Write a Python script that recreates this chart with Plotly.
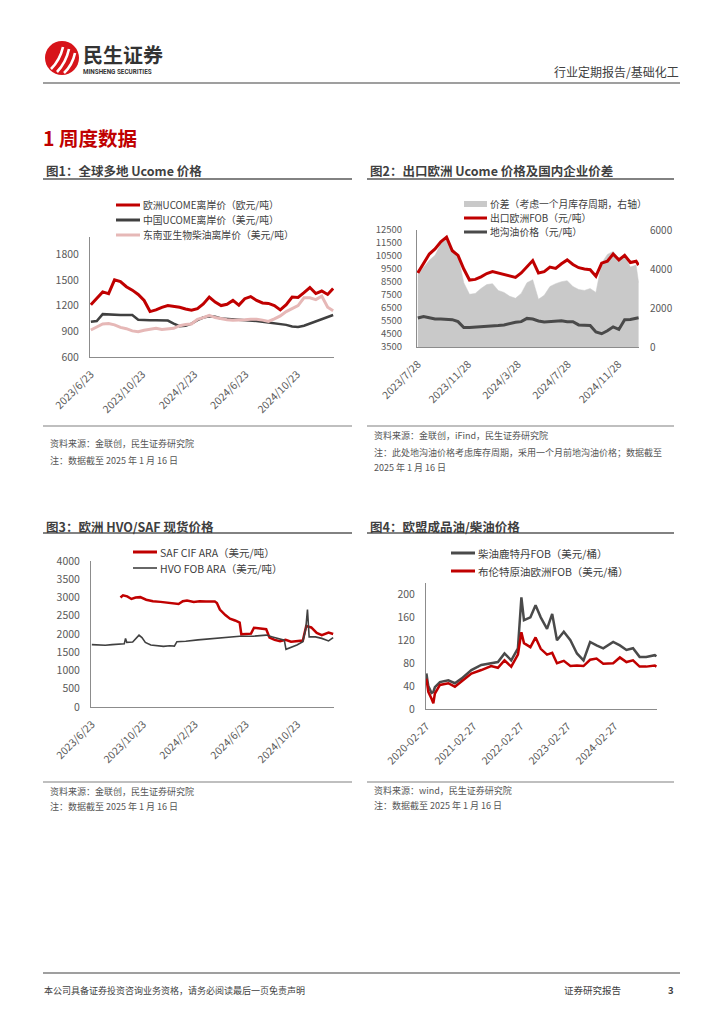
import plotly.graph_objects as go

# page is 724x1024; the browser body adds an 8px margin, so the figure is 716x1016
PAGE_OFF = 8
W, H = 716, 1016
FONT = "Noto Sans CJK SC, Microsoft YaHei, sans-serif"
RED = "#C00000"
DARK = "#404040"
PINK = "#E6B8B7"
AREA = "#C9C9C9"
AXIS = "#8C8C8C"
TICK = "#595959"
TEXT = "#404040"


def px(x):
    return (x - PAGE_OFF) / W


def py(y):
    return 1 - (y - PAGE_OFF) / H


# ---------------- Chart 1 data: 全球多地 Ucome 价格 ----------------
c1_dates = ["2023-06-23", "2023-07-07", "2023-07-21", "2023-08-04", "2023-08-18", "2023-09-01",
            "2023-09-15", "2023-09-29", "2023-10-13", "2023-10-27", "2023-11-10", "2023-11-24",
            "2023-12-08", "2023-12-22", "2024-01-05", "2024-01-19", "2024-02-02", "2024-02-16",
            "2024-03-01", "2024-03-15", "2024-03-29", "2024-04-12", "2024-04-26", "2024-05-10",
            "2024-05-24", "2024-06-07", "2024-06-21", "2024-07-05", "2024-07-19", "2024-08-02",
            "2024-08-16", "2024-08-30", "2024-09-13", "2024-09-27", "2024-10-11", "2024-10-25",
            "2024-11-08", "2024-11-22", "2024-12-06", "2024-12-20", "2025-01-03", "2025-01-16"]
c1_eu_ucome_eur = [1210, 1290, 1360, 1340, 1500, 1480, 1420, 1380, 1330, 1260, 1130, 1150,
                   1180, 1200, 1190, 1180, 1160, 1145, 1165, 1220, 1300, 1240, 1200, 1215,
                   1260, 1205, 1280, 1305, 1260, 1230, 1225, 1200, 1150, 1210, 1300, 1295,
                   1350, 1410, 1340, 1370, 1330, 1400]
c1_cn_ucome_usd = [1010, 1020, 1100, 1095, 1095, 1090, 1090, 1090, 1035, 1030, 1030, 1030,
                   1030, 1025, 990, 960, 965, 990, 1030, 1060, 1075, 1070, 1050, 1045,
                   1040, 1040, 1035, 1030, 1020, 1010, 1000, 990, 980, 975, 955, 950,
                   965, 990, 1010, 1040, 1060, 1090]
c1_sea_biodiesel_usd = [915, 950, 985, 990, 975, 945, 930, 905, 895, 912, 925, 935,
                        920, 930, 935, 965, 980, 985, 1040, 1060, 1085, 1060, 1045, 1035,
                        1030, 1030, 1035, 1040, 1040, 1030, 1015, 1045, 1080, 1130, 1170, 1200,
                        1290, 1290, 1270, 1310, 1180, 1140]
c1_tickvals = ["2023-06-23", "2023-10-23", "2024-02-23", "2024-06-23", "2024-10-23"]
c1_ticktext = ["2023/6/23", "2023/10/23", "2024/2/23", "2024/6/23", "2024/10/23"]
c1_yticks = [600, 900, 1200, 1500, 1800]

# ---------------- Chart 2 data: 出口欧洲 Ucome 价格及国内企业价差 ----------------
c2_dates = ["2023-07-28", "2023-08-11", "2023-08-25", "2023-09-08", "2023-09-22", "2023-10-06",
            "2023-10-20", "2023-11-03", "2023-11-17", "2023-12-01", "2023-12-15", "2023-12-29",
            "2024-01-12", "2024-01-26", "2024-02-09", "2024-02-23", "2024-03-08", "2024-03-22",
            "2024-04-05", "2024-04-19", "2024-05-03", "2024-05-17", "2024-05-31", "2024-06-14",
            "2024-06-28", "2024-07-12", "2024-07-26", "2024-08-09", "2024-08-23", "2024-09-06",
            "2024-09-20", "2024-10-04", "2024-10-18", "2024-11-01", "2024-11-15", "2024-11-29",
            "2024-12-13", "2024-12-27", "2025-01-10", "2025-01-16"]
c2_spread = [3700, 4050, 4450, 4700, 5300, 5550, 5050, 4700, 3300, 2700, 2750, 3000,
             3200, 3250, 2900, 2800, 2600, 2500, 2750, 3300, 3450, 2450, 2650, 3100,
             3250, 3350, 3400, 3100, 2950, 2900, 3000, 2800, 4300, 4750, 4900, 4550,
             4650, 4100, 4200, 3300]
c2_export_fob = [9200, 9950, 10650, 11050, 11600, 11950, 10900, 10550, 9500, 8650, 8700, 8900,
                 9150, 9300, 9200, 9100, 8950, 8850, 9200, 9700, 10150, 9200, 9300, 9650,
                 9550, 9900, 10200, 9850, 9600, 9500, 9450, 8950, 9950, 10100, 10650, 10200,
                 10550, 10000, 10100, 9800]
c2_uco_price = [5730, 5850, 5750, 5650, 5650, 5600, 5600, 5450, 5000, 5000, 5020, 5050,
                5060, 5080, 5150, 5200, 5320, 5400, 5450, 5700, 5650, 5500, 5420, 5450,
                5520, 5520, 5450, 5450, 5200, 5180, 5150, 4650, 4520, 4750, 5050, 4850,
                5600, 5620, 5700, 5750]
c2_tickvals = ["2023-07-28", "2023-11-28", "2024-03-28", "2024-07-28", "2024-11-28"]
c2_ticktext = ["2023/7/28", "2023/11/28", "2024/3/28", "2024/7/28", "2024/11/28"]
c2_left_ticks = [3500, 4500, 5500, 6500, 7500, 8500, 9500, 10500, 11500, 12500]
c2_right_ticks = [0, 2000, 4000, 6000]

# ---------------- Chart 3 data: 欧洲 HVO/SAF 现货价格 ----------------
c3_saf_dates = ["2023-08-30", "2023-09-05", "2023-09-15", "2023-09-25", "2023-10-05", "2023-10-16",
                "2023-10-30", "2023-11-15", "2023-12-03", "2023-12-20", "2024-01-05", "2024-01-15",
                "2024-01-25", "2024-02-04", "2024-02-20", "2024-03-05", "2024-03-20", "2024-04-10",
                "2024-04-15", "2024-04-22", "2024-05-05", "2024-05-16", "2024-05-28", "2024-06-08",
                "2024-06-12", "2024-06-25", "2024-07-05", "2024-07-12", "2024-07-25", "2024-08-10",
                "2024-08-18", "2024-08-30", "2024-09-12", "2024-09-25", "2024-10-08", "2024-10-20",
                "2024-11-05", "2024-11-13", "2024-11-25", "2024-12-08", "2024-12-20", "2025-01-05",
                "2025-01-16"]
c3_saf_cif_ara = [3000, 3060, 3030, 2960, 3000, 3010, 2940, 2900, 2880, 2860, 2850, 2820,
                  2900, 2920, 2880, 2900, 2890, 2890, 2850, 2670, 2520, 2420, 2370, 2310,
                  1990, 1990, 2010, 2170, 2160, 2130, 1900, 1840, 1800, 1840, 1790, 1810,
                  1820, 2220, 2180, 2030, 1970, 2040, 2000]
c3_hvo_dates = ["2023-06-23", "2023-07-10", "2023-07-25", "2023-08-10", "2023-08-25", "2023-09-08",
                "2023-09-11", "2023-09-14", "2023-09-28", "2023-10-13", "2023-10-20", "2023-10-28",
                "2023-11-10", "2023-11-25", "2023-12-10", "2023-12-25", "2024-01-05", "2024-01-11",
                "2024-02-01", "2024-03-01", "2024-04-06", "2024-05-10", "2024-06-08", "2024-07-10",
                "2024-08-10", "2024-08-25", "2024-09-10", "2024-09-22", "2024-09-26", "2024-10-10",
                "2024-10-22", "2024-11-05", "2024-11-12", "2024-11-16", "2024-11-20", "2024-12-05",
                "2024-12-20", "2025-01-05", "2025-01-16"]
c3_hvo_fob_ara = [1710, 1700, 1690, 1710, 1720, 1730, 1880, 1770, 1780, 1970, 1900, 1770,
                  1700, 1670, 1660, 1680, 1670, 1790, 1800, 1840, 1880, 1920, 1940, 1940,
                  1970, 1920, 1870, 1830, 1580, 1640, 1700, 1790, 2150, 2670, 1920, 1920,
                  1880, 1810, 1900]
c3_tickvals = c1_tickvals
c3_ticktext = c1_ticktext
c3_yticks = [0, 500, 1000, 1500, 2000, 2500, 3000, 3500, 4000]

# ---------------- Chart 4 data: 欧盟成品油/柴油价格 ----------------
c4_dates = ["2020-02-27", "2020-03-13", "2020-04-07", "2020-04-21", "2020-05-03", "2020-06-11",
            "2020-08-15", "2020-10-05", "2020-11-25", "2021-02-10", "2021-04-28", "2021-07-13",
            "2021-09-04", "2021-10-25", "2021-12-16", "2022-02-06", "2022-03-05", "2022-03-25",
            "2022-05-14", "2022-06-23", "2022-08-02", "2022-09-20", "2022-10-30", "2022-12-06",
            "2023-01-28", "2023-03-20", "2023-05-10", "2023-06-30", "2023-08-20", "2023-10-09",
            "2023-11-30", "2024-02-15", "2024-04-07", "2024-05-28", "2024-07-18", "2024-09-07",
            "2024-10-28", "2025-01-03", "2025-01-16"]
c4_diesel_rotterdam = [62, 40, 28, 30, 38, 47, 50, 45, 53, 68, 77, 80,
                       82, 97, 85, 106, 195, 155, 160, 181, 160, 140, 166, 120,
                       135, 120, 97, 85, 117, 111, 106, 117, 111, 103, 106, 91,
                       91, 94, 92]
c4_brent_europe = [53, 30, 18, 10, 27, 42, 45, 39, 48, 62, 68, 75,
                   72, 85, 74, 95, 134, 115, 108, 125, 105, 95, 98, 80,
                   84, 75, 76, 75, 86, 88, 79, 80, 90, 82, 85, 74,
                   74, 76, 74]
c4_tickvals = ["2020-02-27", "2021-02-27", "2022-02-27", "2023-02-27", "2024-02-27"]
c4_ticktext = ["2020-02-27", "2021-02-27", "2022-02-27", "2023-02-27", "2024-02-27"]
c4_yticks = [0, 40, 80, 120, 160, 200]

fig = go.Figure()

# Chart 1 traces
fig.add_trace(go.Scatter(x=c1_dates, y=c1_eu_ucome_eur, xaxis="x", yaxis="y", mode="lines",
                         line=dict(color=RED, width=3), name="欧洲UCOME离岸价（欧元/吨）"))
fig.add_trace(go.Scatter(x=c1_dates, y=c1_cn_ucome_usd, xaxis="x", yaxis="y", mode="lines",
                         line=dict(color=DARK, width=2.5), name="中国UCOME离岸价（美元/吨）"))
fig.add_trace(go.Scatter(x=c1_dates, y=c1_sea_biodiesel_usd, xaxis="x", yaxis="y", mode="lines",
                         line=dict(color=PINK, width=3), name="东南亚生物柴油离岸价（美元/吨）"))

# Chart 2 traces (area on base right axis y2, lines on overlay left axis y3)
fig.add_trace(go.Scatter(x=c2_dates, y=c2_spread, xaxis="x2", yaxis="y2", mode="lines",
                         fill="tozeroy", fillcolor=AREA, line=dict(color=AREA, width=0.5),
                         name="价差（考虑一个月库存周期，右轴）"))
fig.add_trace(go.Scatter(x=c2_dates, y=c2_export_fob, xaxis="x2", yaxis="y3", mode="lines",
                         line=dict(color=RED, width=3), name="出口欧洲FOB（元/吨）"))
fig.add_trace(go.Scatter(x=c2_dates, y=c2_uco_price, xaxis="x2", yaxis="y3", mode="lines",
                         line=dict(color="#4A4A4A", width=3), name="地沟油价格（元/吨）"))

# Chart 3 traces
fig.add_trace(go.Scatter(x=c3_saf_dates, y=c3_saf_cif_ara, xaxis="x3", yaxis="y4", mode="lines",
                         line=dict(color=RED, width=2.5), name="SAF CIF ARA（美元/吨）"))
fig.add_trace(go.Scatter(x=c3_hvo_dates, y=c3_hvo_fob_ara, xaxis="x3", yaxis="y4", mode="lines",
                         line=dict(color=DARK, width=1.6), name="HVO FOB ARA（美元/吨）"))

# Chart 4 traces
fig.add_trace(go.Scatter(x=c4_dates, y=c4_diesel_rotterdam, xaxis="x4", yaxis="y5", mode="lines",
                         line=dict(color="#4A4A4A", width=2.5), name="柴油鹿特丹FOB（美元/桶）"))
fig.add_trace(go.Scatter(x=c4_dates, y=c4_brent_europe, xaxis="x4", yaxis="y5", mode="lines",
                         line=dict(color=RED, width=2.5), name="布伦特原油欧洲FOB（美元/桶）"))


def tickfont(size=10.5):
    return dict(family=FONT, size=size, color=TICK)


def xaxis(x0, x1, anchor, rng, tv, tt):
    return dict(domain=[px(x0), px(x1)], anchor=anchor, type="date", range=rng,
                tickmode="array", tickvals=tv, ticktext=tt, tickangle=-45,
                showline=True, linecolor=AXIS, linewidth=1, showgrid=False, zeroline=False,
                ticks="", tickfont=tickfont(10.5), ticklabelstandoff=6, automargin=False)


def yaxis(ytop, ybot, anchor, rng, tv, side="left", showline=True, overlaying=None, fs=10.5,
          standoff=8):
    d = dict(domain=[py(ybot), py(ytop)], anchor=anchor, range=rng, tickmode="array",
             tickvals=tv, ticktext=[str(v) for v in tv], side=side,
             showline=showline, linecolor=AXIS, linewidth=1, showgrid=False, zeroline=False,
             ticks="", tickfont=tickfont(fs), ticklabelstandoff=standoff, automargin=False)
    if overlaying:
        d["overlaying"] = overlaying
    return d


layout = dict(
    template="none",
    width=W, height=H, margin=dict(l=0, r=0, t=0, b=0, pad=0), autosize=False,
    paper_bgcolor="white", plot_bgcolor="rgba(0,0,0,0)", showlegend=False,
    font=dict(family=FONT, color=TEXT),
    xaxis=xaxis(90, 334, "y", ["2023-06-21", "2025-01-18"], c1_tickvals, c1_ticktext),
    yaxis=yaxis(237, 357, "x", [600, 2000], c1_yticks),
    xaxis2=xaxis(417, 639, "y2", ["2023-07-26", "2025-01-17"], c2_tickvals, c2_ticktext),
    yaxis2=yaxis(230, 347, "x2", [0, 6000], c2_right_ticks, side="right", showline=False,
                 fs=10, standoff=10),
    yaxis3=yaxis(230, 347, "x2", [3500, 12500], c2_left_ticks, side="left", overlaying="y2",
                 fs=9.5, standoff=12),
    xaxis3=xaxis(91, 334, "y4", ["2023-06-21", "2025-01-18"], c3_tickvals, c3_ticktext),
    yaxis4=yaxis(561, 707, "x3", [0, 4000], c3_yticks),
    xaxis4=xaxis(426, 657, "y5", ["2020-02-24", "2025-01-20"], c4_tickvals, c4_ticktext),
    yaxis5=yaxis(583, 709, "x4", [0, 220], c4_yticks),
)

shapes = []
annotations = []


def hline(x0, x1, y, color, width):
    shapes.append(dict(type="line", xref="paper", yref="paper", x0=px(x0), x1=px(x1),
                       y0=py(y), y1=py(y), line=dict(color=color, width=width)))


def txt(x, y, s, size, color=TEXT, anchor="left", bold=False, family=FONT):
    annotations.append(dict(xref="paper", yref="paper", x=px(x), y=py(y), xanchor=anchor,
                            yanchor="middle", showarrow=False, borderpad=0,
                            text=("<b>%s</b>" % s) if bold else s,
                            font=dict(family=family, size=size, color=color)))


def legend_line(x0, x1, y, color, width, label, size=10.5):
    hline(x0, x1, y, color, width)
    txt(x1 + 2, y, label, size, TEXT)


# ---------- header ----------
shapes.append(dict(type="circle", xref="paper", yref="paper", x0=px(45), x1=px(79),
                   y0=py(75), y1=py(41), fillcolor="#D7141A", line=dict(width=0)))
for (a, b, c, d) in [(51, 69, 63, 47), (57, 72, 69, 49), (64, 73, 75, 53)]:
    shapes.append(dict(type="path", xref="paper", yref="paper",
                       path="M %f %f Q %f %f %f %f" % (px(a), py(b), px((a + c) / 2 + 3), py((b + d) / 2 + 2),
                                                         px(c), py(d)),
                       line=dict(color="white", width=2.6)))
txt(82, 54, "民生证券", 20, "#333333", bold=True)
txt(82, 72, "MINSHENG SECURITIES", 6.3, "#333333", bold=True, family="Roboto, sans-serif")
txt(680, 71, "行业定期报告/基础化工", 12, TEXT, anchor="right")
hline(43, 680, 83, "#7F7F7F", 1.5)

txt(42, 137, "1 周度数据", 19.5, RED, bold=True)

# ---------- chart titles ----------
txt(45, 171, "图1：全球多地 Ucome 价格", 12.5, "#3F3F3F", bold=True)
txt(369, 171, "图2：出口欧洲 Ucome 价格及国内企业价差", 12.5, "#3F3F3F", bold=True)
txt(45, 526, "图3：欧洲 HVO/SAF 现货价格", 12.5, "#3F3F3F", bold=True)
txt(369, 526, "图4：欧盟成品油/柴油价格", 12.5, "#3F3F3F", bold=True)
hline(43, 352, 179, "#595959", 1.5)
hline(367, 674, 179, "#595959", 1.5)
hline(43, 352, 533, "#595959", 1.5)
hline(367, 674, 533, "#595959", 1.5)

# ---------- legends ----------
legend_line(116, 140, 205, RED, 3, "欧洲UCOME离岸价（欧元/吨）", 9.8)
legend_line(116, 140, 220, DARK, 3, "中国UCOME离岸价（美元/吨）", 9.8)
legend_line(116, 140, 235, PINK, 3, "东南亚生物柴油离岸价（美元/吨）", 9.8)

legend_line(464, 487, 204, AREA, 6, "价差（考虑一个月库存周期，右轴）", 9.8)
legend_line(464, 487, 218, RED, 3, "出口欧洲FOB（元/吨）", 9.8)
legend_line(464, 487, 232, "#4A4A4A", 3, "地沟油价格（元/吨）", 9.8)

legend_line(133, 157, 552, RED, 3, "SAF CIF ARA（美元/吨）", 10.5)
legend_line(133, 157, 568, DARK, 1.6, "HVO FOB ARA（美元/吨）", 10.5)

legend_line(451, 475, 553, "#4A4A4A", 3, "柴油鹿特丹FOB（美元/桶）", 10.5)
legend_line(451, 475, 571, RED, 3, "布伦特原油欧洲FOB（美元/桶）", 10.5)

# ---------- sources ----------
hline(43, 352, 426, "#808080", 1.2)
hline(367, 674, 426, "#808080", 1.2)
hline(43, 352, 782, "#808080", 1.2)
hline(367, 674, 782, "#808080", 1.2)
SRC = "#555555"
txt(49, 443, "资料来源：金联创，民生证券研究院", 9, SRC)
txt(49, 460, "注：数据截至 2025 年 1 月 16 日", 9, SRC)
txt(373, 436, "资料来源：金联创，iFind，民生证券研究院", 9, SRC)
txt(373, 452, "注：此处地沟油价格考虑库存周期，采用一个月前地沟油价格；数据截至", 9, SRC)
txt(373, 467, "2025 年 1 月 16 日", 9, SRC)
txt(49, 791, "资料来源：金联创，民生证券研究院", 9, SRC)
txt(49, 806, "注：数据截至 2025 年 1 月 16 日", 9, SRC)
txt(373, 790, "资料来源：wind，民生证券研究院", 9, SRC)
txt(373, 805, "注：数据截至 2025 年 1 月 16 日", 9, SRC)

# ---------- footer ----------
hline(43, 680, 973, "#7F7F7F", 1.5)
txt(43, 990, "本公司具备证券投资咨询业务资格，请务必阅读最后一页免责声明", 9, TEXT)
txt(563, 990, "证券研究报告", 9.5, TEXT)
txt(675, 990, "3", 9.5, TEXT, anchor="right", bold=True)

layout["shapes"] = shapes
layout["annotations"] = annotations
fig.update_layout(**layout)
fig.write_html("out.html")
